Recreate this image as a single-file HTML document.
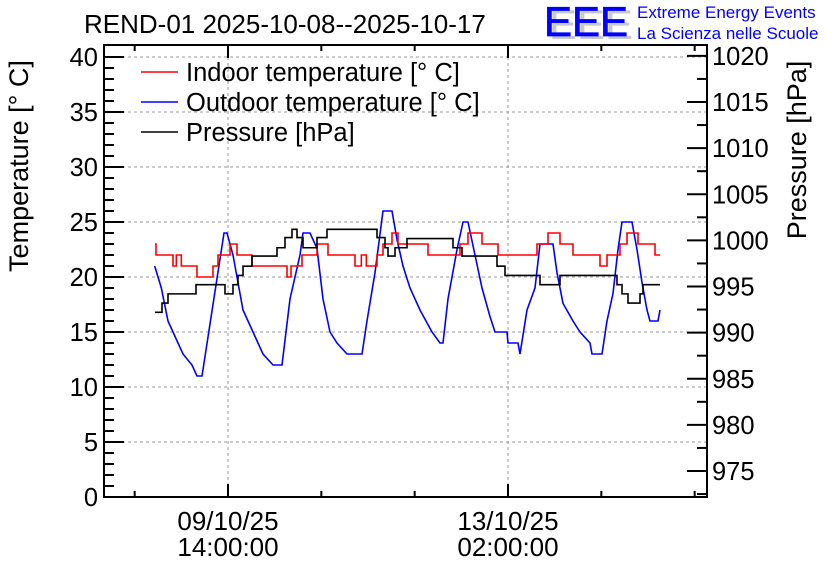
<!DOCTYPE html>
<html><head><meta charset="utf-8"><style>
body{margin:0;background:#fff;}
svg{display:block;font-family:"Liberation Sans",sans-serif;}
</style></head><body>
<svg id="chart" width="836" height="572" viewBox="0 0 836 572">
<rect x="0" y="0" width="836" height="572" fill="#fff"/>
<g id="grid"></g>
<g id="series"></g>
<g id="axes"></g>
<text x="84" y="33" font-size="26">REND-01 2025-10-08--2025-10-17</text>
<g>
<text x="549" y="39" font-size="42" fill="#c8c8c8" textLength="84" lengthAdjust="spacingAndGlyphs">EEE</text>
<text x="544" y="36" font-size="42" fill="#0000ff" stroke="#0000ff" stroke-width="0.8" textLength="84" lengthAdjust="spacingAndGlyphs">EEE</text>
<text x="637" y="18" font-size="17" fill="#0000ff">Extreme Energy Events</text>
<text x="637" y="39" font-size="17" fill="#0000ff">La Scienza nelle Scuole</text>
</g>
<g font-size="25.5">
<line x1="141" y1="72" x2="178" y2="72" stroke="#ff0000" stroke-width="1.5"/>
<text x="186" y="81">Indoor temperature [° C]</text>
<line x1="141" y1="102" x2="178" y2="102" stroke="#0000ff" stroke-width="1.5"/>
<text x="186" y="111">Outdoor temperature [° C]</text>
<line x1="141" y1="132" x2="178" y2="132" stroke="#000" stroke-width="1.5"/>
<text x="186" y="141">Pressure [hPa]</text>
</g>
<text transform="translate(28,166) rotate(-90)" text-anchor="middle" font-size="27">Temperature [° C]</text>
<text transform="translate(806,150) rotate(-90)" text-anchor="middle" font-size="27">Pressure [hPa]</text>
</svg>
<script>
const outdoorT=[-22,-20,-18,-15,-13.5,-10.8,-9.3,-7.8,-1.2,-0.3,1.5,4.5,7.5,9,10.5,13.5,16.2,18.6,21.6,22.5,24.6,26.7,28.5,30.6,32.7,35.7,40.2,41.7,44.1,46.5,49.2,50.7,52.5,54.6,57.6,61.2,63.6,64.5,66,68.7,70.5,72,74.1,76.2,78.6,80.1,83.7,84,87,87.6,89.7,92.1,93.6,97.5,98.7,100.5,103.5,105.6,108.6,109.2,112.2,113.7,115.5,117,118.2,121.2,122.7,124.2,125.7,126.6,129,129.6];
const outdoorV=[21,19,16,14,13,12,11,11,24,24,22,17,15,14,13,12,12,18,22,24,24,22.6,18,15,14,13,13,16,20.4,26,26,23.4,21,19,17,15,14,14,18,22.5,25,25,22,19,16.4,15,15,14,14,13,17,19,23,23,20.4,17.6,16,15,14,13,13,16,18.5,22.5,25,25,22.5,19.5,17,16,16,17];
const indoorT=[-21.9,-21.6,-16.5,-15.5,-14,-9.3,-4.5,-3,0.6,2.7,7.2,17.7,18.9,22.2,26.7,30,38.1,40,41.5,44.7,46.5,49.2,51,60,69.6,72,76.2,81,92.7,96,99.6,103.5,111.6,113.7,117.6,119.7,123,128.1];
const indoorV=[23,22,21,22,21,20,21,22,23,22,21,20,21,22,23,22,21,22,21,22,23,24,23,22,23,24,23,22,23,24,23,22,21,22,23,24,23,22];
const pressT=[-21.9,-19.8,-18,-9.6,-0.9,1.5,3,4.5,7.2,14.7,17.1,19.2,20.7,22.5,26.7,29.7,44.7,47.1,48,50.1,53.7,67.5,70.2,80.7,83.1,93.6,99.6,116.7,118.2,120,123.6,124.5];
const pressV=[992.2,993.2,994.2,995.2,994.2,995.2,996.2,997.2,998.3,999.2,1000.3,1001.2,1000.3,999.2,1000.3,1001.2,1000.3,999.2,998.3,999.2,1000.2,999.2,998.3,997.2,996.2,995.2,996.2,995.2,994.2,993.2,994.2,995.2];
const endT=129.6;
const tempTicks=[0,5,10,15,20,25,30,35,40];
const pressTicks=[975,980,985,990,995,1000,1005,1010,1015,1020];
const xTickLabels=[[0,"09/10/25","14:00:00"],[84,"13/10/25","02:00:00"]];

const L=104,R=707,T=45,B=497;
const X=h=>228+h*(280/84);
const YT=v=>497-v*11;
const YP=p=>102+(1015-p)*9.225;
const NS="http://www.w3.org/2000/svg";
function mk(tag,attrs,parent){const e=document.createElementNS(NS,tag);for(const k in attrs)e.setAttribute(k,attrs[k]);parent.appendChild(e);return e;}
const grid=document.getElementById('grid'),series=document.getElementById('series'),axes=document.getElementById('axes');
tempTicks.forEach(v=>{if(v>0){const l=mk('line',{x1:L,x2:R,y1:YT(v),y2:YT(v),stroke:'#999','stroke-dasharray':'3,3','stroke-width':1},grid);

}});
xTickLabels.forEach(t=>{const l=mk('line',{x1:X(t[0]),x2:X(t[0]),y1:T,y2:B,stroke:'#999','stroke-dasharray':'3,3','stroke-width':1},grid);

});
function stepPath(ts,vs,Y){let d='M'+X(ts[0])+','+Y(vs[0]);for(let i=1;i<ts.length;i++){d+=' H'+X(ts[i])+' V'+Y(vs[i]);}d+=' H'+X(endT);return d;}
function linePath(ts,vs,Y){return ts.map((t,i)=>(i?'L':'M')+X(t)+','+Y(vs[i])).join(' ');}
const pOut=mk('path',{d:linePath(outdoorT,outdoorV,YT),fill:'none',stroke:'#0000ff','stroke-width':1.6},series);


const pIn=mk('path',{d:stepPath(indoorT,indoorV,YT),fill:'none',stroke:'#ff0000','stroke-width':1.6},series);


const pP=mk('path',{d:stepPath(pressT,pressV,YP),fill:'none',stroke:'#000','stroke-width':1.6},series);


const fr=mk('rect',{x:L,y:T,width:R-L,height:B-T,fill:'none',stroke:'#000','stroke-width':2},axes);


for(let v=0;v<=40;v++){const y=YT(v);if(y<T)continue;const len=v%5===0?20:10;mk('line',{x1:L,x2:L+len,y1:y,y2:y,stroke:'#000','stroke-width':2},axes);}
tempTicks.forEach(v=>{const t=mk('text',{x:98,y:YT(v)+9,'text-anchor':'end','font-size':25.5},axes);t.textContent=v;

});
for(let p=972.5;p<=1020;p+=2.5){const y=YP(p);if(y>B||y<T)continue;const len=(p%5===0)?20:10;mk('line',{x1:R-len,x2:R,y1:y,y2:y,stroke:'#000','stroke-width':2},axes);}
pressTicks.forEach(p=>{const t=mk('text',{x:712,y:YP(p)+9,'font-size':25.5},axes);t.textContent=p;

});
for(let k=-3;k<=5;k++){const h=k*28;const x=X(h);if(x<L||x>R)continue;const len=(h%84===0)?13:6;
mk('line',{x1:x,x2:x,y1:B,y2:B-len,stroke:'#000','stroke-width':2},axes);
mk('line',{x1:x,x2:x,y1:T,y2:T+len,stroke:'#000','stroke-width':2},axes);}
xTickLabels.forEach(t=>{[t[1],t[2]].forEach((s,i)=>{const e=mk('text',{x:X(t[0]),y:530+i*26,'text-anchor':'middle','font-size':26},axes);e.textContent=s;

});});
</script>
</body></html>
